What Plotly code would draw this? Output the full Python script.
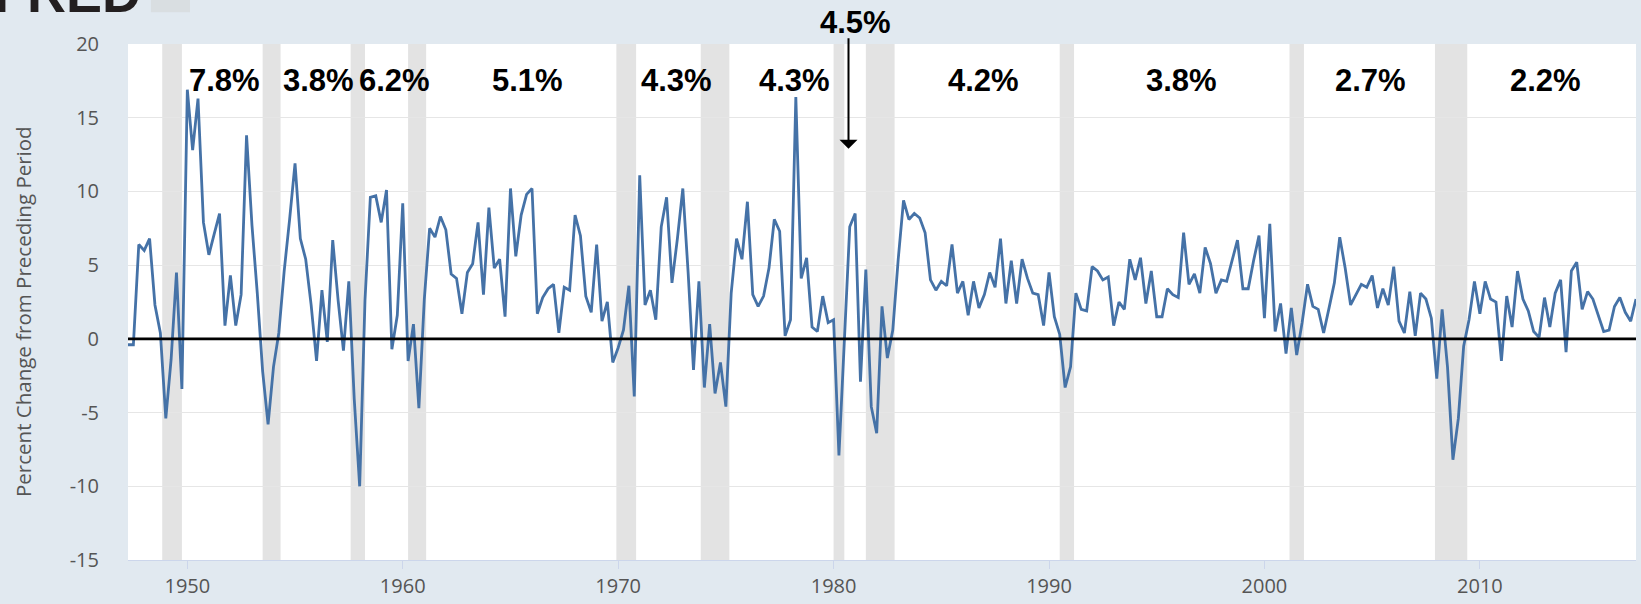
import plotly.graph_objects as go

# ---------------- data ----------------
start_year = 1947
start_quarter = 2  # first observation: 1947 Q2

gdp_change = [
    -0.4, -0.4, 6.4,                 # 1947 Q2-Q4
    6.0, 6.8, 2.3, 0.4,              # 1948
    -5.4, -1.4, 4.5, -3.4,           # 1949
    16.9, 12.8, 16.3, 7.9,           # 1950
    5.7, 7.1, 8.5, 0.9,              # 1951
    4.3, 0.9, 3.0, 13.8,             # 1952
    7.7, 3.1, -2.2, -5.8,            # 1953
    -1.9, 0.4, 4.6, 8.1,             # 1954
    11.9, 6.8, 5.4, 2.3,             # 1955
    -1.5, 3.3, -0.2, 6.7,            # 1956
    2.6, -0.8, 3.9, -4.1,            # 1957
    -10.0, 2.6, 9.6, 9.7,            # 1958
    7.9, 10.1, -0.7, 1.6,            # 1959
    9.2, -1.5, 1.0, -4.7,            # 1960
    2.7, 7.5, 6.9, 8.3,              # 1961
    7.4, 4.4, 4.1, 1.7,              # 1962
    4.5, 5.1, 7.9, 3.0,              # 1963
    8.9, 4.8, 5.4, 1.5,              # 1964
    10.2, 5.6, 8.4, 9.8,             # 1965
    10.2, 1.7, 2.8, 3.4,             # 1966
    3.7, 0.4, 3.5, 3.3,              # 1967
    8.4, 7.0, 2.9, 1.8,              # 1968
    6.4, 1.2, 2.5, -1.6,             # 1969
    -0.6, 0.6, 3.6, -3.9,            # 1970
    11.1, 2.3, 3.3, 1.3,             # 1971
    7.6, 9.6, 3.8, 6.8,              # 1972
    10.2, 4.5, -2.1, 3.9,            # 1973
    -3.3, 1.0, -3.7, -1.6,           # 1974
    -4.6, 3.1, 6.8, 5.4,             # 1975
    9.3, 3.0, 2.2, 2.9,              # 1976
    4.8, 8.1, 7.3, 0.2,              # 1977
    1.3, 16.4, 4.1, 5.5,             # 1978
    0.8, 0.5, 2.9, 1.1,              # 1979
    1.3, -7.9, -0.5, 7.6,            # 1980
    8.5, -2.9, 4.7, -4.6,            # 1981
    -6.4, 2.2, -1.3, 0.6,            # 1982
    5.4, 9.4, 8.1, 8.5,              # 1983
    8.2, 7.2, 4.0, 3.3,              # 1984
    3.9, 3.6, 6.4, 3.1,              # 1985
    3.9, 1.6, 3.9, 2.1,              # 1986
    3.0, 4.5, 3.5, 6.8,              # 1987
    2.4, 5.3, 2.4, 5.4,              # 1988
    4.1, 3.1, 3.0, 0.9,              # 1989
    4.5, 1.5, 0.3, -3.3,             # 1990
    -1.9, 3.1, 2.0, 1.9,             # 1991
    4.9, 4.6, 4.0, 4.2,              # 1992
    0.9, 2.5, 2.0, 5.4,              # 1993
    4.0, 5.5, 2.4, 4.6,              # 1994
    1.5, 1.5, 3.4, 3.0,              # 1995
    2.8, 7.2, 3.7, 4.4,              # 1996
    3.1, 6.2, 5.1, 3.1,              # 1997
    4.0, 3.9, 5.3, 6.7,              # 1998
    3.4, 3.4, 5.3, 7.0,              # 1999
    1.4, 7.8, 0.5, 2.4,              # 2000
    -1.0, 2.1, -1.1, 1.1,            # 2001
    3.7, 2.2, 2.0, 0.4,              # 2002
    2.1, 3.8, 6.9, 4.8,              # 2003
    2.3, 3.0, 3.7, 3.5,              # 2004
    4.3, 2.1, 3.4, 2.3,              # 2005
    4.9, 1.2, 0.4, 3.2,              # 2006
    0.2, 3.1, 2.7, 1.4,              # 2007
    -2.7, 2.0, -1.9, -8.2,           # 2008
    -5.4, -0.5, 1.3, 3.9,            # 2009
    1.7, 3.9, 2.7, 2.5,              # 2010
    -1.5, 2.9, 0.8, 4.6,             # 2011
    2.7, 1.9, 0.5, 0.1,              # 2012
    2.8, 0.8, 3.1, 4.0,              # 2013
    -0.9, 4.6, 5.2, 2.0,             # 2014
    3.2, 2.7, 1.6, 0.5,              # 2015
    0.6, 2.2, 2.8, 1.8,              # 2016
    1.2, 2.7,                        # 2017
]

recession_starts = ["1948-11-01", "1953-07-01", "1957-08-01", "1960-04-01",
                    "1969-12-01", "1973-11-01", "1980-01-01", "1981-07-01",
                    "1990-07-01", "2001-03-01", "2007-12-01"]
recession_ends = ["1949-10-01", "1954-05-01", "1958-04-01", "1961-02-01",
                  "1970-11-01", "1975-03-01", "1980-07-01", "1982-11-01",
                  "1991-03-01", "2001-11-01", "2009-06-01"]

avg_labels = ["7.8%", "3.8%", "6.2%", "5.1%", "4.3%", "4.3%",
              "4.2%", "3.8%", "2.7%", "2.2%"]
avg_label_dates = ["1951-09-15", "1956-02-10", "1959-08-10", "1965-10-20",
                   "1972-09-10", "1978-03-01", "1986-12-20", "1996-03-01",
                   "2004-12-10", "2013-01-25"]

arrow_label = "4.5%"
arrow_label_date = "1981-01-10"
arrow_tip_date = "1980-09-10"

y_ticks = [-15, -10, -5, 0, 5, 10, 15, 20]
y_tick_text = ["-15", "-10", "-5", "0", "5", "10", "15", "20"]
x_tick_years = [1950, 1960, 1970, 1980, 1990, 2000, 2010]

y_title = "Percent Change from Preceding Period"
logo_text = "FRED"
page_title = "Real Gross Domestic Product"

# ---------------- build ----------------
dates = []
for i in range(len(gdp_change)):
    q = start_quarter - 1 + i
    yr = start_year + q // 4
    mo = (q % 4) * 3 + 1
    dates.append(f"{yr}-{mo:02d}-01")

fig = go.Figure()
fig.add_trace(go.Scatter(
    x=dates, y=gdp_change, mode="lines",
    line=dict(color="#4572a7", width=2.8),
    hoverinfo="x+y", showlegend=False,
))

label_font = dict(family="Liberation Sans, Arial, sans-serif",
                  size=31, color="black", weight="bold")

shapes = []
for s, e in zip(recession_starts, recession_ends):
    shapes.append(dict(type="rect", xref="x", yref="paper", x0=s, x1=e,
                       y0=0, y1=1, fillcolor="#e3e3e3", line=dict(width=0),
                       layer="below"))
# zero line on top
shapes.append(dict(type="line", xref="paper", yref="y", x0=0, x1=1, y0=0, y1=0,
                   line=dict(color="black", width=2.6), layer="above"))
# logo icon remnant (top-left, cut by page edge)
shapes.append(dict(type="rect", xref="paper", yref="paper",
                   x0=0.0152, x1=0.0411, y0=1.0615, y1=1.16,
                   fillcolor="#d9dee1", line=dict(width=0)))

annotations = []
for t, d in zip(avg_labels, avg_label_dates):
    annotations.append(dict(x=d, y=0.929, xref="x", yref="paper", text=t,
                            showarrow=False, xanchor="center", yanchor="middle",
                            font=label_font))
annotations.append(dict(x=arrow_label_date, y=1.042, xref="x", yref="paper",
                        text=arrow_label, showarrow=False, xanchor="center",
                        yanchor="middle", font=label_font))
annotations.append(dict(x=arrow_tip_date, y=0.797, xref="x", yref="paper",
                        text="", showarrow=True, axref="pixel", ayref="pixel",
                        ax=0, ay=-112, arrowhead=1, arrowsize=1.5,
                        arrowwidth=2, arrowcolor="black", standoff=0))
# y-axis title
annotations.append(dict(x=-0.0695, y=0.481, xref="paper", yref="paper",
                        text=y_title, textangle=-90, showarrow=False,
                        xanchor="center", yanchor="middle",
                        font=dict(family="Open Sans, sans-serif", size=20.5,
                                  color="#555555")))
# FRED logo remnant (cut off by the top edge in the reference)
annotations.append(dict(x=-0.0901, y=1.099, xref="paper", yref="paper",
                        text=logo_text, showarrow=False, xanchor="left",
                        yanchor="middle",
                        font=dict(family="Liberation Sans, Arial, sans-serif",
                                  size=54, color="#231f20", weight="bold")))
annotations.append(dict(x=0.075, y=1.101, xref="paper", yref="paper",
                        text=page_title, showarrow=False, xanchor="left",
                        yanchor="middle",
                        font=dict(family="Liberation Sans, Arial, sans-serif",
                                  size=21, color="#555555", weight="bold")))

fig.update_layout(
    width=1641, height=604,
    margin=dict(l=128, r=5, t=44, b=40),
    paper_bgcolor="#e1e9f0",
    plot_bgcolor="white",
    shapes=shapes,
    annotations=annotations,
    xaxis=dict(
        type="date",
        range=["1947-04-01", "2017-04-01"],
        tickvals=[f"{y}-01-01" for y in x_tick_years],
        ticktext=[str(y) for y in x_tick_years],
        showgrid=False, zeroline=False,
        showline=True, linecolor="#ccd6eb", linewidth=1,
        ticks="outside", ticklen=8, tickcolor="#ccd6eb",
        tickfont=dict(family="Open Sans, sans-serif", size=20, color="#555555"),
    ),
    yaxis=dict(
        range=[-15, 20],
        tickvals=y_ticks,
        ticktext=y_tick_text,
        showgrid=True, gridcolor="#e6e6e6", gridwidth=1,
        zeroline=False, showline=False,
        ticks="outside", ticklen=24, tickcolor="rgba(0,0,0,0)",
        tickfont=dict(family="Open Sans, sans-serif", size=20, color="#555555"),
    ),
)

fig.write_html("out.html",
               config={"displayModeBar": False},
               post_script="document.body.style.margin='0';"
                           "document.body.style.overflow='hidden';")
